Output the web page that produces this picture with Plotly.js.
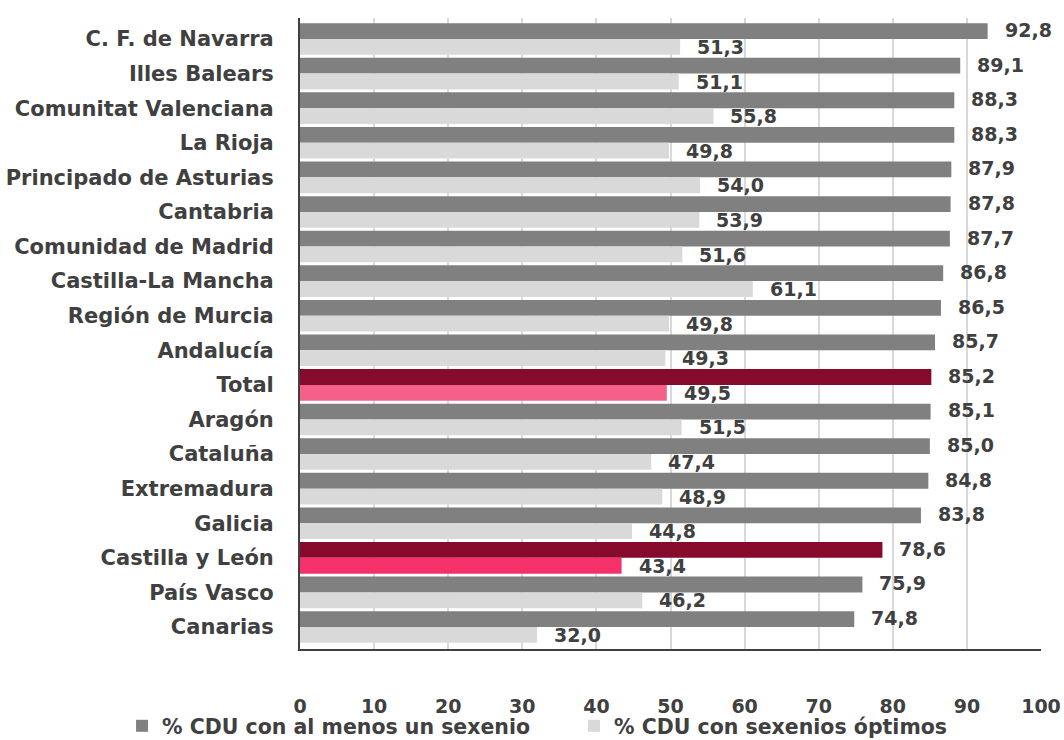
<!DOCTYPE html>
<html>
<head>
<meta charset="utf-8">
<script src="https://cdn.plot.ly/plotly-3.0.1.min.js"></script>
<style>html,body{margin:0;padding:0;background:#fff;}#chart{width:1064px;height:740px;}</style>
</head>
<body>
<div id="chart"></div>
<script>
const categories = ["C. F. de Navarra","Illes Balears","Comunitat Valenciana","La Rioja","Principado de Asturias","Cantabria","Comunidad de Madrid","Castilla-La Mancha","Región de Murcia","Andalucía","Total","Aragón","Cataluña","Extremadura","Galicia","Castilla y León","País Vasco","Canarias"];
const alMenosUnSexenio = [92.8,89.1,88.3,88.3,87.9,87.8,87.7,86.8,86.5,85.7,85.2,85.1,85.0,84.8,83.8,78.6,75.9,74.8];
const sexeniosOptimos = [51.3,51.1,55.8,49.8,54.0,53.9,51.6,61.1,49.8,49.3,49.5,51.5,47.4,48.9,44.8,43.4,46.2,32.0];
const seriesNames = ["% CDU con al menos un sexenio","% CDU con sexenios óptimos"];
const xTicks = [0,10,20,30,40,50,60,70,80,90,100];

const FONT = "DejaVu Sans, Arial, sans-serif";
const TXT = "#404040";
const dark1 = c => (c === "Total" || c === "Castilla y León") ? "#850A2B" : "#808080";
const light2 = c => c === "Total" ? "#F4608A" : (c === "Castilla y León" ? "#F5316C" : "#D9D9D9");
const fmt = v => v.toFixed(1).replace(".", ",");

const traces = [
  {type:"bar", orientation:"h", name:seriesNames[0], y:categories, x:alMenosUnSexenio,
   marker:{color:categories.map(dark1)}, hoverinfo:"none", legend:"legend"},
  {type:"bar", orientation:"h", name:seriesNames[1], y:categories, x:sexeniosOptimos,
   marker:{color:categories.map(light2)}, hoverinfo:"none", legend:"legend2"}
];

const annotations = [];
categories.forEach((c,i)=>{
  annotations.push({x:alMenosUnSexenio[i], y:c, xref:"x", yref:"y", text:fmt(alMenosUnSexenio[i]),
    showarrow:false, xanchor:"left", yanchor:"middle", xshift:15, yshift:9,
    font:{family:FONT, size:19, color:TXT, weight:"bold"}});
  annotations.push({x:sexeniosOptimos[i], y:c, xref:"x", yref:"y", text:fmt(sexeniosOptimos[i]),
    showarrow:false, xanchor:"left", yanchor:"middle", xshift:15, yshift:-8,
    font:{family:FONT, size:19, color:TXT, weight:"bold"}});
});

const legendBase = {orientation:"h", xref:"container", yref:"container", xanchor:"left", y:0.046, yanchor:"top",
  font:{family:FONT, size:20.5, color:TXT, weight:"bold"}, itemwidth:30, bgcolor:"rgba(0,0,0,0)"};

const layout = {
  width:1064, height:740,
  margin:{l:300, r:23, t:18, b:91, pad:0, autoexpand:false},
  paper_bgcolor:"#fff", plot_bgcolor:"#fff",
  barmode:"group", bargap:0.086, bargroupgap:0,
  showlegend:true,
  legend:Object.assign({}, legendBase, {x:0.1147}),
  legend2:Object.assign({}, legendBase, {x:0.5395}),
  xaxis:{range:[0,100], tickvals:xTicks, ticktext:xTicks.map(String), showgrid:true, gridcolor:"#D9D9D9", gridwidth:2,
    zeroline:false, showline:true, linecolor:"#404040", linewidth:2, ticks:"", ticklabelstandoff:39,
    tickfont:{family:FONT, size:19, color:TXT, weight:"bold"}, fixedrange:true},
  yaxis:{type:"category", autorange:"reversed", showgrid:false, zeroline:false, showline:true,
    linecolor:"#404040", linewidth:2, ticks:"", ticklabelstandoff:20,
    tickfont:{family:FONT, size:21, color:TXT, weight:"bold"}, fixedrange:true},
  annotations:annotations
};
Plotly.newPlot("chart", traces, layout, {displayModeBar:false, staticPlot:true});
</script>
</body>
</html>
